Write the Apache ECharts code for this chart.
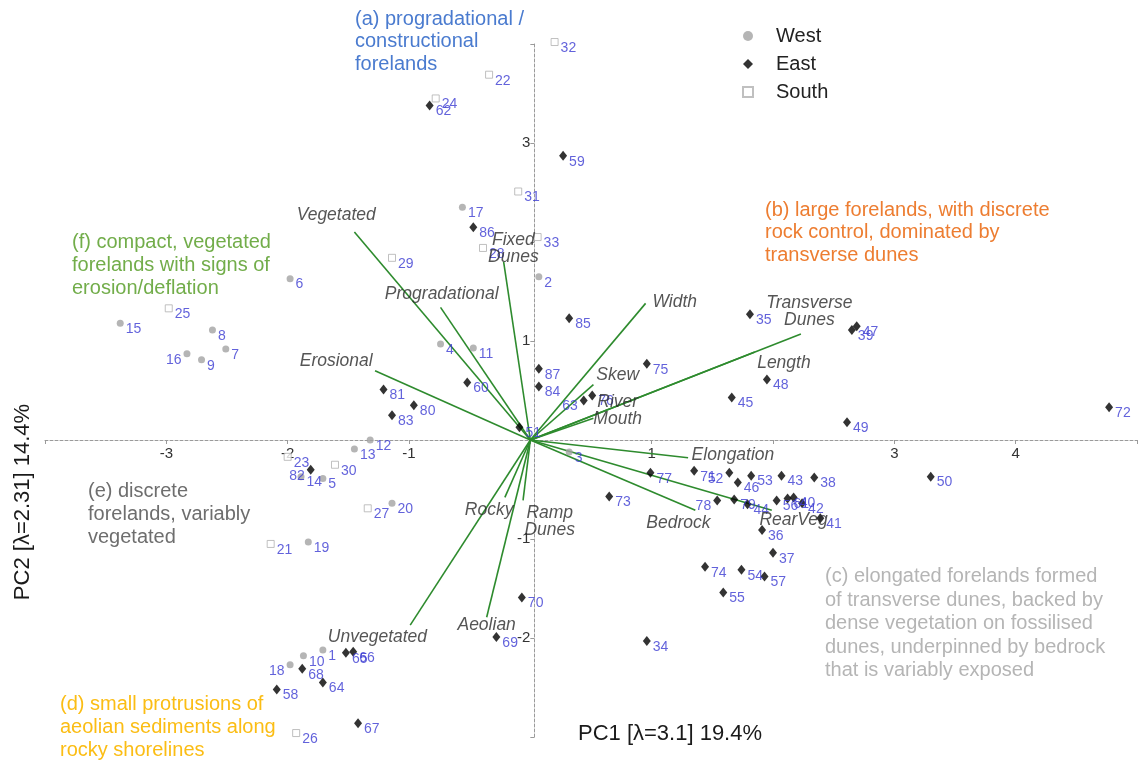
<!DOCTYPE html>
<html>
<head>
<meta charset="utf-8">
<script src="https://cdn.jsdelivr.net/npm/echarts@6/dist/echarts.min.js"></script>
<style>
  html, body { margin: 0; padding: 0; background: #fff; }
  #chart { width: 1140px; height: 765px; }
</style>
</head>
<body>
<div id="chart"></div>
<script>
// Site scores on the first two principal components, grouped by coast
const westIds = [1, 2, 3, 4, 5, 6, 7, 8, 9, 10, 11, 12, 13, 14, 15, 16, 17, 18, 19, 20];
const westPC1 = [-1.71, 0.07, 0.32, -0.74, -1.71, -1.98, -2.51, -2.62, -2.71, -1.87, -0.47, -1.32, -1.45, -1.89, -3.38, -2.83, -0.56, -1.98, -1.83, -1.14];
const westPC2 = [-2.12, 1.65, -0.12, 0.97, -0.39, 1.63, 0.92, 1.11, 0.81, -2.18, 0.93, 0.00, -0.09, -0.37, 1.18, 0.87, 2.35, -2.27, -1.03, -0.64];

const southIds = [21, 22, 23, 24, 25, 26, 27, 28, 29, 30, 31, 32, 33];
const southPC1 = [-2.14, -0.34, -2.00, -0.78, -2.98, -1.93, -1.34, -0.39, -1.14, -1.61, -0.10, 0.20, 0.06];
const southPC2 = [-1.05, 3.69, -0.17, 3.45, 1.33, -2.96, -0.69, 1.94, 1.84, -0.25, 2.51, 4.02, 2.05];

const eastIds = [34, 35, 36, 37, 38, 39, 40, 41, 42, 43, 44, 45, 46, 47, 48, 49, 50, 51, 52, 53,
  54, 55, 56, 57, 58, 59, 60, 61, 62, 63, 64, 65, 66, 67, 68, 69, 70, 71, 72, 73,
  74, 75, 76, 77, 78, 79, 80, 81, 82, 83, 84, 85, 86, 87];
const eastPC1 = [0.96, 1.81, 1.91, 2.00, 2.34, 2.65, 2.17, 2.39, 2.24, 2.07, 1.79, 1.66, 1.71, 2.69, 1.95, 2.61, 3.30, -0.09, 1.64, 1.82,
  1.74, 1.59, 2.03, 1.93, -2.09, 0.27, -0.52, 2.12, -0.83, 0.44, -1.71, -1.52, -1.46, -1.42, -1.88, -0.28, -0.07, 1.35, 4.77, 0.65,
  1.44, 0.96, 0.51, 0.99, 1.54, 1.68, -0.96, -1.21, -1.81, -1.14, 0.07, 0.32, -0.47, 0.07];
const eastPC2 = [-2.03, 1.27, -0.91, -1.14, -0.38, 1.11, -0.58, -0.79, -0.64, -0.36, -0.65, 0.43, -0.43, 1.15, 0.61, 0.18, -0.37, 0.13, -0.33, -0.36,
  -1.31, -1.54, -0.61, -1.38, -2.52, 2.87, 0.58, -0.59, 3.38, 0.40, -2.45, -2.15, -2.14, -2.86, -2.31, -1.99, -1.59, -0.31, 0.33, -0.57,
  -1.28, 0.77, 0.45, -0.33, -0.61, -0.60, 0.35, 0.51, -0.30, 0.25, 0.54, 1.23, 2.15, 0.72];

// Sites whose number is printed to the left of the marker
const leftLabelIds = [16, 18, 52, 63, 78, 82];

// Variable loadings (arrow tips) and where each variable name sits
const loadingNames = ['Vegetated', 'Fixed\nDunes', 'Progradational', 'Erosional', 'Width', 'Transverse\nDunes',
  'Length', 'Skew', 'River\nMouth', 'Elongation', 'Bedrock', 'RearVeg', 'Rocky', 'Ramp\nDunes', 'Unvegetated', 'Aeolian'];
const loadingPC1 = [-1.45, -0.22, -0.74, -1.28, 0.95, 2.23, 1.85, 0.52, 0.52, 1.30, 1.36, 1.99, -0.21, -0.06, -0.99, -0.36];
const loadingPC2 = [2.10, 1.80, 1.34, 0.70, 1.38, 1.07, 0.89, 0.56, 0.22, -0.18, -0.71, -0.71, -0.58, -0.61, -1.87, -1.79];
const nameAtPC1 = [-1.60, -0.14, -0.73, -1.60, 1.19, 2.30, 2.09, 0.72, 0.72, 1.67, 1.22, 2.17, -0.34, 0.16, -1.26, -0.36];
const nameAtPC2 = [2.27, 1.93, 1.47, 0.80, 1.39, 1.30, 0.78, 0.66, 0.30, -0.15, -0.84, -0.81, -0.71, -0.82, -1.99, -1.87];

// Tick values that carry a printed label
const pc1TickLabels = [-3, -2, -1, 1, 3, 4];
const pc2TickLabels = [-2, -1, 1, 3];

// Axis ranges
const PC1_MIN = -4, PC1_MAX = 5;
const PC2_MIN = -3, PC2_MAX = 4;

const FONT = '"Liberation Sans", Arial, Helvetica, sans-serif';
const LABEL_BLUE = '#3b3bd2';

// Plot area geometry
const GRID = { left: 45, top: 44, width: 1101, height: 693 };
// The axes cross at the origin: shift each axis inward from its grid edge
const xAxisShift = -GRID.height * (0 - PC2_MIN) / (PC2_MAX - PC2_MIN);
const yAxisShift = -GRID.width * (0 - PC1_MIN) / (PC1_MAX - PC1_MIN);

function sitePoints(ids, xs, ys) {
  return ids.map((id, i) => {
    const item = { value: [xs[i], ys[i], id] };
    if (leftLabelIds.indexOf(id) >= 0) {
      item.label = { position: 'left', distance: 2, offset: [0, 6] };
    }
    return item;
  });
}

const siteLabel = {
  show: true,
  formatter: p => String(p.value[2]),
  position: 'right',
  distance: 2,
  offset: [0, 6],
  color: LABEL_BLUE,
  fontSize: 14,
  fontFamily: FONT
};

const axisGrey = '#9a9a9a';

const chart = echarts.init(document.getElementById('chart'), null, { renderer: 'canvas' });

const option = {
  animation: false,
  backgroundColor: '#ffffff',
  textStyle: { fontFamily: FONT },
  grid: Object.assign({ containLabel: false }, GRID),
  legend: {
    orient: 'vertical',
    left: 737,
    top: 21,
    itemWidth: 10,
    itemHeight: 10,
    itemGap: 8,
    data: ['West', 'East', 'South'],
    textStyle: { fontSize: 20, color: '#222', lineHeight: 20, padding: [0, 0, 0, 18] }
  },
  xAxis: {
    type: 'value',
    min: PC1_MIN,
    max: PC1_MAX,
    interval: 1,
    offset: xAxisShift,
    axisLine: { onZero: false, lineStyle: { color: axisGrey, width: 1, type: [3, 2] } },
    axisTick: { show: true, length: 4, lineStyle: { color: axisGrey } },
    axisLabel: {
      fontSize: 15,
      color: '#333',
      margin: 6,
      formatter: v => (pc1TickLabels.indexOf(v) >= 0 ? String(v) : '')
    },
    splitLine: { show: false }
  },
  yAxis: {
    type: 'value',
    min: PC2_MIN,
    max: PC2_MAX,
    interval: 1,
    offset: yAxisShift,
    axisLine: { onZero: false, lineStyle: { color: axisGrey, width: 1, type: [3, 2] } },
    axisTick: { show: true, length: 4, lineStyle: { color: axisGrey } },
    axisLabel: {
      fontSize: 15,
      color: '#333',
      margin: 4,
      formatter: v => (pc2TickLabels.indexOf(v) >= 0 ? String(v) : '')
    },
    splitLine: { show: false }
  },
  series: [
    {
      name: 'loadings',
      type: 'lines',
      coordinateSystem: 'cartesian2d',
      silent: true,
      z: 2,
      lineStyle: { color: '#2e8b2e', width: 1.6, opacity: 1 },
      data: loadingNames.map((n, i) => ({ coords: [[0, 0], [loadingPC1[i], loadingPC2[i]]] }))
    },
    {
      name: 'West',
      type: 'scatter',
      z: 4,
      clip: false,
      symbol: 'circle',
      symbolSize: 7,
      itemStyle: { color: '#a3a3a3' },
      label: siteLabel,
      data: sitePoints(westIds, westPC1, westPC2)
    },
    {
      name: 'East',
      type: 'scatter',
      z: 4,
      clip: false,
      symbol: 'diamond',
      symbolSize: [8, 10],
      itemStyle: { color: '#000000' },
      label: siteLabel,
      data: sitePoints(eastIds, eastPC1, eastPC2)
    },
    {
      name: 'South',
      type: 'scatter',
      z: 4,
      clip: false,
      symbol: 'rect',
      symbolSize: 7,
      itemStyle: { color: '#ffffff', borderColor: '#b0b0b0', borderWidth: 1 },
      label: siteLabel,
      data: sitePoints(southIds, southPC1, southPC2)
    },
    {
      name: 'variables',
      type: 'scatter',
      z: 5,
      silent: true,
      symbolSize: 1,
      itemStyle: { color: 'rgba(0,0,0,0)' },
      label: {
        show: true,
        position: 'inside',
        formatter: p => p.data[2],
        fontStyle: 'italic',
        fontSize: 17.5,
        lineHeight: 17,
        color: '#2a2a2a',
        align: 'center'
      },
      data: loadingNames.map((n, i) => [nameAtPC1[i], nameAtPC2[i], n])
    }
  ],
  graphic: [
    {
      type: 'text', left: 355, top: 8,
      style: { text: '(a) progradational /\nconstructional\nforelands', fill: '#4a7bcf', fontSize: 20, lineHeight: 22.5, fontFamily: FONT }
    },
    {
      type: 'text', left: 765, top: 199,
      style: { text: '(b) large forelands, with discrete\nrock control, dominated by\ntransverse dunes', fill: '#ed7d31', fontSize: 20, lineHeight: 22.5, fontFamily: FONT }
    },
    {
      type: 'text', left: 825, top: 565,
      style: { text: '(c) elongated forelands formed\nof transverse dunes, backed by\ndense vegetation on fossilised\ndunes, underpinned by bedrock\nthat is variably exposed', fill: '#b5b5b5', fontSize: 20, lineHeight: 23.5, fontFamily: FONT }
    },
    {
      type: 'text', left: 60, top: 693,
      style: { text: '(d) small protrusions of\naeolian sediments along\nrocky shorelines', fill: '#fbbd14', fontSize: 20, lineHeight: 23, fontFamily: FONT }
    },
    {
      type: 'text', left: 88, top: 480,
      style: { text: '(e) discrete\nforelands, variably\nvegetated', fill: '#6e6e6e', fontSize: 20, lineHeight: 23, fontFamily: FONT }
    },
    {
      type: 'text', left: 72, top: 231,
      style: { text: '(f) compact, vegetated\nforelands with signs of\nerosion/deflation', fill: '#72ad4a', fontSize: 20, lineHeight: 23, fontFamily: FONT }
    },
    {
      type: 'text', x: 670, y: 734,
      style: { text: 'PC1 [\u03bb=3.1] 19.4%', fill: '#1a1a1a', fontSize: 22, fontFamily: FONT, align: 'center', verticalAlign: 'middle' }
    },
    {
      type: 'text', x: 23, y: 502, rotation: Math.PI / 2,
      style: { text: 'PC2 [\u03bb=2.31] 14.4%', fill: '#1a1a1a', fontSize: 22, fontFamily: FONT, align: 'center', verticalAlign: 'middle' }
    }
  ]
};

chart.setOption(option);
</script>
</body>
</html>
